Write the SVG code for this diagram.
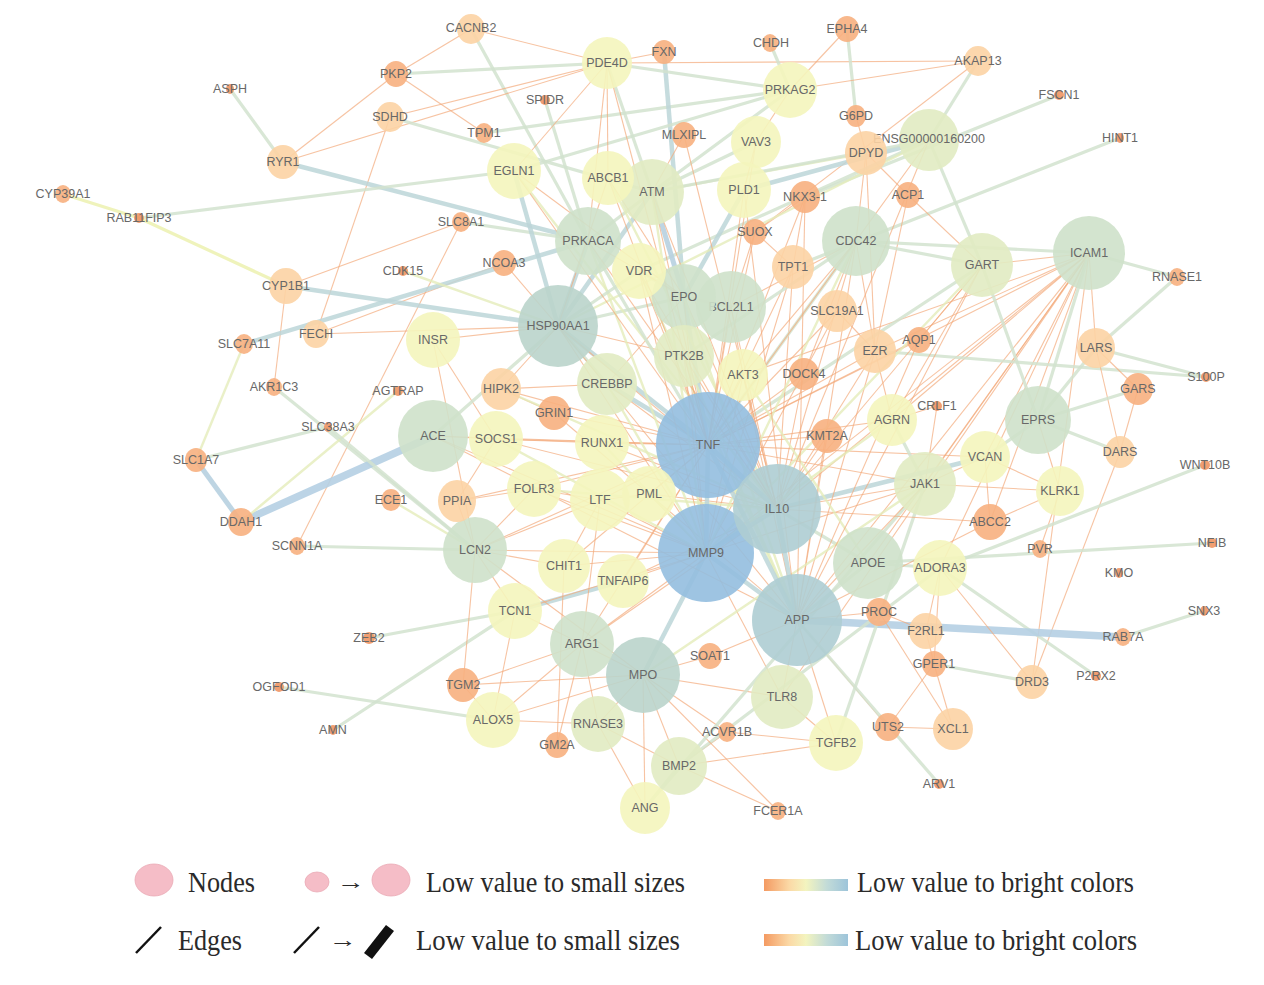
<svg xmlns="http://www.w3.org/2000/svg" width="1264" height="985" viewBox="0 0 1264 985">
<defs>
<linearGradient id="grad" x1="0" y1="0" x2="1" y2="0">
<stop offset="0" stop-color="#f49a62"/>
<stop offset="0.3" stop-color="#fbd9a6"/>
<stop offset="0.5" stop-color="#f3f4bf"/>
<stop offset="0.75" stop-color="#c2dbd8"/>
<stop offset="1" stop-color="#9dc4da"/>
</linearGradient>
</defs>
<style>
.eo{stroke:#f4ab7c;stroke-width:1.1;opacity:.7}
.ey{stroke:#e5edbb;stroke-width:2.4;opacity:.8}
.eyy{stroke:#eef2b4;stroke-width:3.2;opacity:.9}
.eg{stroke:#d3e3cf;stroke-width:3.2;opacity:.85}
.et{stroke:#bdd6d9;stroke-width:4.5;opacity:.85}
.ebs{stroke:#b7d1e1;stroke-width:5;opacity:.9}
.eb{stroke:#b5d0e4;stroke-width:7.5;opacity:.9}
.n ellipse{fill-opacity:.9}
.bl{fill:#93bedf}
.tb{fill:#aecdd3}
.tg{fill:#bad4cb}
.gr{fill:#cee1ca}
.yg{fill:#e1ebc2}
.ye{fill:#f4f5bd}
.lo{fill:#fcd3a4}
.or{fill:#f7b07f}
.dk{fill:#f09563}
.n text{font-family:"Liberation Sans",Arial,sans-serif;font-size:12.5px;fill:#686868;text-anchor:middle;dominant-baseline:central}
.lg{font-family:"Liberation Serif","Times New Roman",serif;font-size:29px;fill:#2a2a2a}
.ar{font-family:"Liberation Serif","DejaVu Serif",serif;font-size:22px;fill:#2a2a2a}
</style>
<rect width="1264" height="985" fill="#ffffff"/>
<g id="edges">
<line class="eo" x1="471" y1="29" x2="396" y2="74"/>
<line class="eo" x1="471" y1="29" x2="607" y2="63"/>
<line class="eg" x1="471" y1="29" x2="588" y2="241"/>
<line class="eo" x1="396" y1="74" x2="283" y2="162"/>
<line class="eo" x1="396" y1="74" x2="484" y2="133"/>
<line class="eg" x1="396" y1="74" x2="607" y2="63"/>
<line class="eo" x1="283" y1="162" x2="607" y2="63"/>
<line class="eo" x1="390" y1="117" x2="607" y2="63"/>
<line class="eo" x1="390" y1="117" x2="316" y2="334"/>
<line class="eg" x1="390" y1="117" x2="652" y2="192"/>
<line class="et" x1="283" y1="162" x2="588" y2="241"/>
<line class="eg" x1="230" y1="89" x2="283" y2="162"/>
<line class="eg" x1="484" y1="133" x2="790" y2="90"/>
<line class="eg" x1="545" y1="100" x2="588" y2="241"/>
<line class="eyy" x1="63" y1="194" x2="139" y2="218"/>
<line class="eyy" x1="139" y1="218" x2="286" y2="286"/>
<line class="eg" x1="139" y1="218" x2="514" y2="171"/>
<line class="eo" x1="461" y1="222" x2="286" y2="286"/>
<line class="eo" x1="461" y1="222" x2="297" y2="546"/>
<line class="eg" x1="461" y1="222" x2="588" y2="241"/>
<line class="eo" x1="504" y1="263" x2="558" y2="326"/>
<line class="eo" x1="316" y1="334" x2="504" y2="263"/>
<line class="et" x1="286" y1="286" x2="558" y2="326"/>
<line class="eo" x1="286" y1="286" x2="274" y2="387"/>
<line class="et" x1="244" y1="344" x2="588" y2="241"/>
<line class="ey" x1="244" y1="344" x2="196" y2="460"/>
<line class="eo" x1="316" y1="334" x2="558" y2="326"/>
<line class="eg" x1="274" y1="387" x2="475" y2="550"/>
<line class="ebs" x1="196" y1="460" x2="241" y2="522"/>
<line class="eg" x1="196" y1="460" x2="328" y2="427"/>
<line class="eb" x1="241" y1="522" x2="433" y2="436"/>
<line class="ey" x1="241" y1="522" x2="398" y2="391"/>
<line class="eg" x1="328" y1="427" x2="475" y2="550"/>
<line class="ey" x1="391" y1="500" x2="475" y2="550"/>
<line class="eg" x1="297" y1="546" x2="475" y2="550"/>
<line class="eg" x1="369" y1="638" x2="515" y2="611"/>
<line class="eg" x1="279" y1="687" x2="493" y2="720"/>
<line class="eg" x1="333" y1="730" x2="515" y2="611"/>
<line class="et" x1="515" y1="611" x2="623" y2="581"/>
<line class="eo" x1="433" y1="340" x2="558" y2="326"/>
<line class="eo" x1="433" y1="340" x2="475" y2="550"/>
<line class="eo" x1="433" y1="340" x2="496" y2="439"/>
<line class="eg" x1="433" y1="436" x2="558" y2="326"/>
<line class="ey" x1="403" y1="271" x2="558" y2="326"/>
<line class="eo" x1="607" y1="63" x2="978" y2="61"/>
<line class="et" x1="664" y1="52" x2="684" y2="297"/>
<line class="eo" x1="664" y1="52" x2="607" y2="63"/>
<line class="eg" x1="770" y1="43" x2="790" y2="90"/>
<line class="eo" x1="847" y1="29" x2="790" y2="90"/>
<line class="eg" x1="847" y1="29" x2="856" y2="116"/>
<line class="eo" x1="978" y1="61" x2="755" y2="232"/>
<line class="eo" x1="978" y1="61" x2="790" y2="90"/>
<line class="eg" x1="978" y1="61" x2="929" y2="140"/>
<line class="eo" x1="790" y1="90" x2="756" y2="142"/>
<line class="eg" x1="790" y1="90" x2="652" y2="192"/>
<line class="eg" x1="790" y1="90" x2="607" y2="63"/>
<line class="eg" x1="790" y1="90" x2="514" y2="171"/>
<line class="eo" x1="856" y1="116" x2="866" y2="153"/>
<line class="eo" x1="866" y1="153" x2="908" y2="195"/>
<line class="eo" x1="866" y1="153" x2="856" y2="241"/>
<line class="eo" x1="866" y1="153" x2="875" y2="351"/>
<line class="ey" x1="866" y1="153" x2="652" y2="192"/>
<line class="et" x1="929" y1="140" x2="744" y2="190"/>
<line class="eg" x1="929" y1="140" x2="982" y2="265"/>
<line class="eg" x1="929" y1="140" x2="652" y2="192"/>
<line class="eg" x1="929" y1="140" x2="639" y2="271"/>
<line class="eg" x1="1059" y1="95" x2="805" y2="197"/>
<line class="eg" x1="1120" y1="138" x2="793" y2="267"/>
<line class="eo" x1="805" y1="197" x2="755" y2="232"/>
<line class="eo" x1="755" y1="232" x2="793" y2="267"/>
<line class="eo" x1="805" y1="197" x2="793" y2="267"/>
<line class="eo" x1="908" y1="195" x2="982" y2="265"/>
<line class="eo" x1="908" y1="195" x2="875" y2="351"/>
<line class="eo" x1="684" y1="135" x2="652" y2="192"/>
<line class="eg" x1="756" y1="142" x2="652" y2="192"/>
<line class="eo" x1="756" y1="142" x2="744" y2="190"/>
<line class="eo" x1="607" y1="63" x2="608" y2="178"/>
<line class="eg" x1="607" y1="63" x2="652" y2="192"/>
<line class="eo" x1="607" y1="63" x2="514" y2="171"/>
<line class="ebs" x1="652" y1="192" x2="684" y2="297"/>
<line class="eg" x1="652" y1="192" x2="588" y2="241"/>
<line class="et" x1="652" y1="192" x2="558" y2="326"/>
<line class="et" x1="514" y1="171" x2="558" y2="326"/>
<line class="et" x1="588" y1="241" x2="558" y2="326"/>
<line class="et" x1="744" y1="190" x2="684" y2="297"/>
<line class="eo" x1="607" y1="63" x2="588" y2="241"/>
<line class="eg" x1="1089" y1="253" x2="1177" y2="277"/>
<line class="eo" x1="1089" y1="253" x2="1096" y2="348"/>
<line class="eo" x1="1089" y1="253" x2="982" y2="265"/>
<line class="eg" x1="1089" y1="253" x2="856" y2="241"/>
<line class="eo" x1="1089" y1="253" x2="875" y2="351"/>
<line class="eo" x1="1089" y1="253" x2="892" y2="420"/>
<line class="eo" x1="1089" y1="253" x2="925" y2="484"/>
<line class="eo" x1="1089" y1="253" x2="868" y2="563"/>
<line class="eo" x1="1089" y1="253" x2="706" y2="553"/>
<line class="eo" x1="1089" y1="253" x2="777" y2="509"/>
<line class="eo" x1="1089" y1="253" x2="708" y2="445"/>
<line class="eo" x1="1089" y1="253" x2="990" y2="522"/>
<line class="eo" x1="1089" y1="253" x2="940" y2="568"/>
<line class="eo" x1="1089" y1="253" x2="985" y2="457"/>
<line class="eg" x1="1089" y1="253" x2="1038" y2="420"/>
<line class="eo" x1="1089" y1="253" x2="743" y2="375"/>
<line class="eo" x1="1089" y1="253" x2="1032" y2="682"/>
<line class="eo" x1="1089" y1="253" x2="782" y2="697"/>
<line class="eo" x1="1089" y1="253" x2="797" y2="620"/>
<line class="eg" x1="1177" y1="277" x2="1096" y2="348"/>
<line class="eg" x1="1206" y1="377" x2="1096" y2="348"/>
<line class="eg" x1="1206" y1="377" x2="875" y2="351"/>
<line class="eo" x1="1096" y1="348" x2="1138" y2="389"/>
<line class="eo" x1="1096" y1="348" x2="1120" y2="452"/>
<line class="eo" x1="1138" y1="389" x2="1120" y2="452"/>
<line class="eg" x1="1138" y1="389" x2="1038" y2="420"/>
<line class="eg" x1="1096" y1="348" x2="1038" y2="420"/>
<line class="eg" x1="1120" y1="452" x2="1038" y2="420"/>
<line class="eo" x1="1120" y1="452" x2="1032" y2="682"/>
<line class="eo" x1="1038" y1="420" x2="1060" y2="491"/>
<line class="eg" x1="1038" y1="420" x2="985" y2="457"/>
<line class="eg" x1="1038" y1="420" x2="982" y2="265"/>
<line class="eo" x1="1060" y1="491" x2="1040" y2="549"/>
<line class="eo" x1="1060" y1="491" x2="985" y2="457"/>
<line class="eo" x1="1060" y1="491" x2="925" y2="484"/>
<line class="eo" x1="1060" y1="491" x2="990" y2="522"/>
<line class="eg" x1="1205" y1="465" x2="940" y2="568"/>
<line class="eg" x1="1212" y1="543" x2="868" y2="563"/>
<line class="eg" x1="1204" y1="611" x2="1123" y2="637"/>
<line class="eg" x1="1096" y1="676" x2="940" y2="568"/>
<line class="eb" x1="797" y1="620" x2="1123" y2="637"/>
<line class="eg" x1="982" y1="265" x2="856" y2="241"/>
<line class="eo" x1="982" y1="265" x2="892" y2="420"/>
<line class="eg" x1="982" y1="265" x2="708" y2="445"/>
<line class="eo" x1="937" y1="406" x2="892" y2="420"/>
<line class="eo" x1="937" y1="406" x2="925" y2="484"/>
<line class="eo" x1="985" y1="457" x2="925" y2="484"/>
<line class="eo" x1="985" y1="457" x2="990" y2="522"/>
<line class="eo" x1="985" y1="457" x2="708" y2="445"/>
<line class="eo" x1="892" y1="420" x2="708" y2="445"/>
<line class="eg" x1="892" y1="420" x2="925" y2="484"/>
<line class="eg" x1="940" y1="568" x2="868" y2="563"/>
<line class="eo" x1="940" y1="568" x2="926" y2="631"/>
<line class="eo" x1="940" y1="568" x2="1032" y2="682"/>
<line class="eo" x1="940" y1="568" x2="934" y2="664"/>
<line class="eg" x1="868" y1="563" x2="797" y2="620"/>
<line class="eg" x1="868" y1="563" x2="777" y2="509"/>
<line class="et" x1="777" y1="509" x2="985" y2="457"/>
<line class="eo" x1="879" y1="612" x2="797" y2="620"/>
<line class="eo" x1="879" y1="612" x2="926" y2="631"/>
<line class="eo" x1="879" y1="612" x2="953" y2="729"/>
<line class="eo" x1="926" y1="631" x2="934" y2="664"/>
<line class="eo" x1="934" y1="664" x2="953" y2="729"/>
<line class="eg" x1="934" y1="664" x2="1032" y2="682"/>
<line class="eo" x1="934" y1="664" x2="888" y2="727"/>
<line class="eo" x1="888" y1="727" x2="953" y2="729"/>
<line class="eo" x1="888" y1="727" x2="797" y2="620"/>
<line class="eg" x1="939" y1="784" x2="797" y2="620"/>
<line class="eo" x1="836" y1="743" x2="782" y2="697"/>
<line class="eo" x1="836" y1="743" x2="797" y2="620"/>
<line class="eo" x1="836" y1="743" x2="679" y2="766"/>
<line class="eg" x1="836" y1="743" x2="925" y2="484"/>
<line class="eo" x1="782" y1="697" x2="797" y2="620"/>
<line class="eo" x1="782" y1="697" x2="706" y2="553"/>
<line class="eo" x1="782" y1="697" x2="643" y2="675"/>
<line class="eo" x1="727" y1="732" x2="836" y2="743"/>
<line class="eo" x1="727" y1="732" x2="679" y2="766"/>
<line class="eo" x1="727" y1="732" x2="643" y2="675"/>
<line class="eo" x1="679" y1="766" x2="778" y2="811"/>
<line class="eg" x1="679" y1="766" x2="645" y2="808"/>
<line class="eo" x1="679" y1="766" x2="643" y2="675"/>
<line class="eg" x1="679" y1="766" x2="940" y2="568"/>
<line class="eo" x1="679" y1="766" x2="598" y2="724"/>
<line class="eo" x1="778" y1="811" x2="643" y2="675"/>
<line class="eo" x1="645" y1="808" x2="598" y2="724"/>
<line class="eg" x1="645" y1="808" x2="925" y2="484"/>
<line class="eo" x1="645" y1="808" x2="643" y2="675"/>
<line class="eo" x1="710" y1="656" x2="643" y2="675"/>
<line class="eo" x1="710" y1="656" x2="797" y2="620"/>
<line class="eo" x1="643" y1="675" x2="582" y2="644"/>
<line class="et" x1="643" y1="675" x2="706" y2="553"/>
<line class="eo" x1="643" y1="675" x2="475" y2="550"/>
<line class="eo" x1="598" y1="724" x2="493" y2="720"/>
<line class="eo" x1="598" y1="724" x2="643" y2="675"/>
<line class="eo" x1="598" y1="724" x2="582" y2="644"/>
<line class="eo" x1="557" y1="745" x2="582" y2="644"/>
<line class="eo" x1="557" y1="745" x2="564" y2="566"/>
<line class="eo" x1="493" y1="720" x2="515" y2="611"/>
<line class="eo" x1="493" y1="720" x2="582" y2="644"/>
<line class="eo" x1="493" y1="720" x2="643" y2="675"/>
<line class="eo" x1="493" y1="720" x2="463" y2="685"/>
<line class="eo" x1="463" y1="685" x2="582" y2="644"/>
<line class="eo" x1="463" y1="685" x2="643" y2="675"/>
<line class="eo" x1="463" y1="685" x2="475" y2="550"/>
<line class="eo" x1="515" y1="611" x2="475" y2="550"/>
<line class="eo" x1="515" y1="611" x2="582" y2="644"/>
<line class="eo" x1="515" y1="611" x2="706" y2="553"/>
<line class="eo" x1="582" y1="644" x2="706" y2="553"/>
<line class="eo" x1="582" y1="644" x2="708" y2="445"/>
<line class="eo" x1="582" y1="644" x2="777" y2="509"/>
<line class="eo" x1="582" y1="644" x2="600" y2="500"/>
<line class="eo" x1="564" y1="566" x2="475" y2="550"/>
<line class="eo" x1="564" y1="566" x2="706" y2="553"/>
<line class="eo" x1="564" y1="566" x2="600" y2="500"/>
<line class="eo" x1="564" y1="566" x2="708" y2="445"/>
<line class="eo" x1="623" y1="581" x2="706" y2="553"/>
<line class="eo" x1="623" y1="581" x2="708" y2="445"/>
<line class="eo" x1="623" y1="581" x2="777" y2="509"/>
<line class="eo" x1="475" y1="550" x2="706" y2="553"/>
<line class="eo" x1="475" y1="550" x2="708" y2="445"/>
<line class="eo" x1="475" y1="550" x2="600" y2="500"/>
<line class="eo" x1="475" y1="550" x2="457" y2="501"/>
<line class="eo" x1="475" y1="550" x2="534" y2="489"/>
<line class="eo" x1="457" y1="501" x2="708" y2="445"/>
<line class="eo" x1="457" y1="501" x2="534" y2="489"/>
<line class="eo" x1="457" y1="501" x2="496" y2="439"/>
<line class="eo" x1="534" y1="489" x2="600" y2="500"/>
<line class="eo" x1="534" y1="489" x2="708" y2="445"/>
<line class="eo" x1="534" y1="489" x2="706" y2="553"/>
<line class="eo" x1="600" y1="500" x2="706" y2="553"/>
<line class="eo" x1="600" y1="500" x2="708" y2="445"/>
<line class="eo" x1="600" y1="500" x2="649" y2="494"/>
<line class="eo" x1="649" y1="494" x2="708" y2="445"/>
<line class="eo" x1="649" y1="494" x2="706" y2="553"/>
<line class="eo" x1="649" y1="494" x2="777" y2="509"/>
<line class="eo" x1="496" y1="439" x2="708" y2="445"/>
<line class="eo" x1="496" y1="439" x2="777" y2="509"/>
<line class="eo" x1="496" y1="439" x2="433" y2="436"/>
<line class="eo" x1="496" y1="439" x2="602" y2="443"/>
<line class="eo" x1="433" y1="436" x2="708" y2="445"/>
<line class="eo" x1="433" y1="436" x2="706" y2="553"/>
<line class="eo" x1="433" y1="436" x2="797" y2="620"/>
<line class="eo" x1="602" y1="443" x2="708" y2="445"/>
<line class="eo" x1="602" y1="443" x2="777" y2="509"/>
<line class="eo" x1="554" y1="413" x2="501" y2="389"/>
<line class="eo" x1="554" y1="413" x2="708" y2="445"/>
<line class="eo" x1="554" y1="413" x2="797" y2="620"/>
<line class="eo" x1="501" y1="389" x2="558" y2="326"/>
<line class="eo" x1="501" y1="389" x2="708" y2="445"/>
<line class="eo" x1="501" y1="389" x2="607" y2="384"/>
<line class="et" x1="607" y1="384" x2="708" y2="445"/>
<line class="eg" x1="607" y1="384" x2="558" y2="326"/>
<line class="eo" x1="607" y1="384" x2="684" y2="297"/>
<line class="eo" x1="607" y1="384" x2="777" y2="509"/>
<line class="et" x1="558" y1="326" x2="708" y2="445"/>
<line class="eo" x1="558" y1="326" x2="706" y2="553"/>
<line class="eg" x1="558" y1="326" x2="684" y2="297"/>
<line class="eo" x1="558" y1="326" x2="684" y2="356"/>
<line class="eo" x1="558" y1="326" x2="777" y2="509"/>
<line class="eo" x1="558" y1="326" x2="797" y2="620"/>
<line class="et" x1="684" y1="297" x2="708" y2="445"/>
<line class="eo" x1="684" y1="297" x2="777" y2="509"/>
<line class="eo" x1="684" y1="297" x2="706" y2="553"/>
<line class="eg" x1="684" y1="297" x2="731" y2="307"/>
<line class="eg" x1="684" y1="297" x2="639" y2="271"/>
<line class="eo" x1="731" y1="307" x2="708" y2="445"/>
<line class="eo" x1="731" y1="307" x2="777" y2="509"/>
<line class="eo" x1="731" y1="307" x2="743" y2="375"/>
<line class="eo" x1="731" y1="307" x2="856" y2="241"/>
<line class="eo" x1="684" y1="356" x2="708" y2="445"/>
<line class="eo" x1="684" y1="356" x2="777" y2="509"/>
<line class="eo" x1="684" y1="356" x2="706" y2="553"/>
<line class="eo" x1="743" y1="375" x2="708" y2="445"/>
<line class="eo" x1="743" y1="375" x2="777" y2="509"/>
<line class="eo" x1="743" y1="375" x2="706" y2="553"/>
<line class="eo" x1="743" y1="375" x2="797" y2="620"/>
<line class="eo" x1="804" y1="374" x2="708" y2="445"/>
<line class="eo" x1="804" y1="374" x2="777" y2="509"/>
<line class="eo" x1="804" y1="374" x2="856" y2="241"/>
<line class="eo" x1="827" y1="436" x2="708" y2="445"/>
<line class="eo" x1="827" y1="436" x2="777" y2="509"/>
<line class="eo" x1="827" y1="436" x2="797" y2="620"/>
<line class="eo" x1="793" y1="267" x2="708" y2="445"/>
<line class="eo" x1="793" y1="267" x2="777" y2="509"/>
<line class="eo" x1="793" y1="267" x2="706" y2="553"/>
<line class="eo" x1="837" y1="311" x2="708" y2="445"/>
<line class="eo" x1="837" y1="311" x2="706" y2="553"/>
<line class="eo" x1="837" y1="311" x2="875" y2="351"/>
<line class="eo" x1="875" y1="351" x2="708" y2="445"/>
<line class="eo" x1="875" y1="351" x2="777" y2="509"/>
<line class="eo" x1="875" y1="351" x2="797" y2="620"/>
<line class="eo" x1="875" y1="351" x2="856" y2="241"/>
<line class="eo" x1="875" y1="351" x2="892" y2="420"/>
<line class="eo" x1="919" y1="340" x2="708" y2="445"/>
<line class="eo" x1="919" y1="340" x2="797" y2="620"/>
<line class="eo" x1="919" y1="340" x2="982" y2="265"/>
<line class="eg" x1="856" y1="241" x2="708" y2="445"/>
<line class="eo" x1="856" y1="241" x2="777" y2="509"/>
<line class="eo" x1="856" y1="241" x2="797" y2="620"/>
<line class="eo" x1="856" y1="241" x2="743" y2="375"/>
<line class="eg" x1="856" y1="241" x2="684" y2="356"/>
<line class="eo" x1="925" y1="484" x2="708" y2="445"/>
<line class="eo" x1="925" y1="484" x2="777" y2="509"/>
<line class="eo" x1="925" y1="484" x2="797" y2="620"/>
<line class="eo" x1="925" y1="484" x2="706" y2="553"/>
<line class="eo" x1="990" y1="522" x2="797" y2="620"/>
<line class="eo" x1="990" y1="522" x2="777" y2="509"/>
<line class="ey" x1="652" y1="192" x2="706" y2="553"/>
<line class="ey" x1="639" y1="271" x2="797" y2="620"/>
<line class="ey" x1="684" y1="356" x2="797" y2="620"/>
<line class="ey" x1="684" y1="297" x2="797" y2="620"/>
<line class="ey" x1="588" y1="241" x2="706" y2="553"/>
<line class="ey" x1="608" y1="178" x2="777" y2="509"/>
<line class="ey" x1="856" y1="241" x2="706" y2="553"/>
<line class="ey" x1="982" y1="265" x2="706" y2="553"/>
<line class="ey" x1="514" y1="171" x2="777" y2="509"/>
<line class="ey" x1="929" y1="140" x2="558" y2="326"/>
<line class="ey" x1="602" y1="443" x2="706" y2="553"/>
<line class="ey" x1="607" y1="384" x2="706" y2="553"/>
<line class="ey" x1="501" y1="389" x2="777" y2="509"/>
<line class="ey" x1="496" y1="439" x2="706" y2="553"/>
<line class="ey" x1="743" y1="375" x2="868" y2="563"/>
<line class="ey" x1="892" y1="420" x2="706" y2="553"/>
<line class="ey" x1="925" y1="484" x2="643" y2="675"/>
<line class="ey" x1="534" y1="489" x2="777" y2="509"/>
<line class="et" x1="777" y1="509" x2="708" y2="445"/>
<line class="et" x1="777" y1="509" x2="706" y2="553"/>
<line class="et" x1="777" y1="509" x2="797" y2="620"/>
<line class="et" x1="706" y1="553" x2="708" y2="445"/>
<line class="et" x1="706" y1="553" x2="797" y2="620"/>
<line class="et" x1="708" y1="445" x2="797" y2="620"/>
<line class="eo" x1="639" y1="271" x2="708" y2="445"/>
<line class="eo" x1="639" y1="271" x2="706" y2="553"/>
<line class="eo" x1="639" y1="271" x2="777" y2="509"/>
<line class="eg" x1="639" y1="271" x2="558" y2="326"/>
<line class="eo" x1="608" y1="178" x2="708" y2="445"/>
<line class="eo" x1="608" y1="178" x2="684" y2="297"/>
<line class="eo" x1="608" y1="178" x2="558" y2="326"/>
<line class="eo" x1="514" y1="171" x2="684" y2="297"/>
<line class="eo" x1="514" y1="171" x2="708" y2="445"/>
<line class="eg" x1="588" y1="241" x2="708" y2="445"/>
<line class="eo" x1="588" y1="241" x2="777" y2="509"/>
<line class="eo" x1="588" y1="241" x2="684" y2="297"/>
<line class="eo" x1="652" y1="192" x2="708" y2="445"/>
<line class="eo" x1="652" y1="192" x2="777" y2="509"/>
<line class="eo" x1="744" y1="190" x2="708" y2="445"/>
<line class="eo" x1="744" y1="190" x2="797" y2="620"/>
<line class="eo" x1="756" y1="142" x2="708" y2="445"/>
<line class="eo" x1="755" y1="232" x2="731" y2="307"/>
<line class="eo" x1="755" y1="232" x2="708" y2="445"/>
<line class="eo" x1="805" y1="197" x2="708" y2="445"/>
<line class="eo" x1="805" y1="197" x2="797" y2="620"/>
<line class="eo" x1="684" y1="135" x2="777" y2="509"/>
<line class="eo" x1="982" y1="265" x2="777" y2="509"/>
<line class="eo" x1="982" y1="265" x2="797" y2="620"/>
<line class="eo" x1="929" y1="140" x2="708" y2="445"/>
<line class="eo" x1="929" y1="140" x2="777" y2="509"/>
<line class="eo" x1="607" y1="63" x2="708" y2="445"/>
</g>
<g id="nodes">
<g id="n-TNF" class="n"><ellipse class="bl" cx="708" cy="445" rx="52" ry="53"/><text x="708" y="445">TNF</text></g>
<g id="n-MMP9" class="n"><ellipse class="bl" cx="706" cy="553" rx="48" ry="49"/><text x="706" y="553">MMP9</text></g>
<g id="n-IL10" class="n"><ellipse class="tb" cx="777" cy="509" rx="44" ry="45"/><text x="777" y="509">IL10</text></g>
<g id="n-APP" class="n"><ellipse class="tb" cx="797" cy="620" rx="45" ry="46"/><text x="797" y="620">APP</text></g>
<g id="n-HSP90AA1" class="n"><ellipse class="tg" cx="558" cy="326" rx="40" ry="41"/><text x="558" y="326">HSP90AA1</text></g>
<g id="n-MPO" class="n"><ellipse class="tg" cx="643" cy="675" rx="37" ry="38"/><text x="643" y="675">MPO</text></g>
<g id="n-ACE" class="n"><ellipse class="gr" cx="433" cy="436" rx="35" ry="36"/><text x="433" y="436">ACE</text></g>
<g id="n-ICAM1" class="n"><ellipse class="gr" cx="1089" cy="253" rx="36" ry="37"/><text x="1089" y="253">ICAM1</text></g>
<g id="n-CDC42" class="n"><ellipse class="gr" cx="856" cy="241" rx="34" ry="35"/><text x="856" y="241">CDC42</text></g>
<g id="n-PRKACA" class="n"><ellipse class="gr" cx="588" cy="241" rx="33" ry="34"/><text x="588" y="241">PRKACA</text></g>
<g id="n-BCL2L1" class="n"><ellipse class="gr" cx="731" cy="307" rx="35" ry="36"/><text x="731" y="307">BCL2L1</text></g>
<g id="n-EPO" class="n"><ellipse class="gr" cx="684" cy="297" rx="32" ry="33"/><text x="684" y="297">EPO</text></g>
<g id="n-LCN2" class="n"><ellipse class="gr" cx="475" cy="550" rx="32" ry="33"/><text x="475" y="550">LCN2</text></g>
<g id="n-APOE" class="n"><ellipse class="gr" cx="868" cy="563" rx="35" ry="36"/><text x="868" y="563">APOE</text></g>
<g id="n-EPRS" class="n"><ellipse class="gr" cx="1038" cy="420" rx="33" ry="34"/><text x="1038" y="420">EPRS</text></g>
<g id="n-ARG1" class="n"><ellipse class="gr" cx="582" cy="644" rx="32" ry="33"/><text x="582" y="644">ARG1</text></g>
<g id="n-ATM" class="n"><ellipse class="yg" cx="652" cy="192" rx="32" ry="33"/><text x="652" y="192">ATM</text></g>
<g id="n-GART" class="n"><ellipse class="yg" cx="982" cy="265" rx="31" ry="32"/><text x="982" y="265">GART</text></g>
<g id="n-JAK1" class="n"><ellipse class="yg" cx="925" cy="484" rx="31" ry="32"/><text x="925" y="484">JAK1</text></g>
<g id="n-TLR8" class="n"><ellipse class="yg" cx="782" cy="697" rx="31" ry="32"/><text x="782" y="697">TLR8</text></g>
<g id="n-CREBBP" class="n"><ellipse class="yg" cx="607" cy="384" rx="30" ry="31"/><text x="607" y="384">CREBBP</text></g>
<g id="n-PTK2B" class="n"><ellipse class="yg" cx="684" cy="356" rx="30" ry="31"/><text x="684" y="356">PTK2B</text></g>
<g id="n-ENSG00000160200" class="n"><ellipse class="yg" cx="929" cy="140" rx="30" ry="31"/><text x="929" y="139">ENSG00000160200</text></g>
<g id="n-BMP2" class="n"><ellipse class="yg" cx="679" cy="766" rx="28" ry="29"/><text x="679" y="766">BMP2</text></g>
<g id="n-RNASE3" class="n"><ellipse class="yg" cx="598" cy="724" rx="27" ry="28"/><text x="598" y="724">RNASE3</text></g>
<g id="n-PDE4D" class="n"><ellipse class="ye" cx="607" cy="63" rx="25" ry="26"/><text x="607" y="63">PDE4D</text></g>
<g id="n-PRKAG2" class="n"><ellipse class="ye" cx="790" cy="90" rx="27" ry="28"/><text x="790" y="90">PRKAG2</text></g>
<g id="n-VAV3" class="n"><ellipse class="ye" cx="756" cy="142" rx="25" ry="26"/><text x="756" y="142">VAV3</text></g>
<g id="n-EGLN1" class="n"><ellipse class="ye" cx="514" cy="171" rx="27" ry="28"/><text x="514" y="171">EGLN1</text></g>
<g id="n-ABCB1" class="n"><ellipse class="ye" cx="608" cy="178" rx="26" ry="27"/><text x="608" y="178">ABCB1</text></g>
<g id="n-PLD1" class="n"><ellipse class="ye" cx="744" cy="190" rx="27" ry="28"/><text x="744" y="190">PLD1</text></g>
<g id="n-VDR" class="n"><ellipse class="ye" cx="639" cy="271" rx="27" ry="28"/><text x="639" y="271">VDR</text></g>
<g id="n-INSR" class="n"><ellipse class="ye" cx="433" cy="340" rx="27" ry="28"/><text x="433" y="340">INSR</text></g>
<g id="n-AKT3" class="n"><ellipse class="ye" cx="743" cy="375" rx="25" ry="26"/><text x="743" y="375">AKT3</text></g>
<g id="n-SOCS1" class="n"><ellipse class="ye" cx="496" cy="439" rx="27" ry="28"/><text x="496" y="439">SOCS1</text></g>
<g id="n-RUNX1" class="n"><ellipse class="ye" cx="602" cy="443" rx="27" ry="28"/><text x="602" y="443">RUNX1</text></g>
<g id="n-FOLR3" class="n"><ellipse class="ye" cx="534" cy="489" rx="27" ry="28"/><text x="534" y="489">FOLR3</text></g>
<g id="n-LTF" class="n"><ellipse class="ye" cx="600" cy="500" rx="30" ry="31"/><text x="600" y="500">LTF</text></g>
<g id="n-PML" class="n"><ellipse class="ye" cx="649" cy="494" rx="27" ry="28"/><text x="649" y="494">PML</text></g>
<g id="n-CHIT1" class="n"><ellipse class="ye" cx="564" cy="566" rx="26" ry="27"/><text x="564" y="566">CHIT1</text></g>
<g id="n-TNFAIP6" class="n"><ellipse class="ye" cx="623" cy="581" rx="26" ry="27"/><text x="623" y="581">TNFAIP6</text></g>
<g id="n-TCN1" class="n"><ellipse class="ye" cx="515" cy="611" rx="27" ry="28"/><text x="515" y="611">TCN1</text></g>
<g id="n-ALOX5" class="n"><ellipse class="ye" cx="493" cy="720" rx="27" ry="28"/><text x="493" y="720">ALOX5</text></g>
<g id="n-ANG" class="n"><ellipse class="ye" cx="645" cy="808" rx="25" ry="26"/><text x="645" y="808">ANG</text></g>
<g id="n-AGRN" class="n"><ellipse class="ye" cx="892" cy="420" rx="25" ry="26"/><text x="892" y="420">AGRN</text></g>
<g id="n-VCAN" class="n"><ellipse class="ye" cx="985" cy="457" rx="25" ry="26"/><text x="985" y="457">VCAN</text></g>
<g id="n-KLRK1" class="n"><ellipse class="ye" cx="1060" cy="491" rx="24" ry="25"/><text x="1060" y="491">KLRK1</text></g>
<g id="n-ADORA3" class="n"><ellipse class="ye" cx="940" cy="568" rx="27" ry="28"/><text x="940" y="568">ADORA3</text></g>
<g id="n-TGFB2" class="n"><ellipse class="ye" cx="836" cy="743" rx="27" ry="28"/><text x="836" y="743">TGFB2</text></g>
<g id="n-DPYD" class="n"><ellipse class="lo" cx="866" cy="153" rx="21" ry="22"/><text x="866" y="153">DPYD</text></g>
<g id="n-TPT1" class="n"><ellipse class="lo" cx="793" cy="267" rx="21" ry="22"/><text x="793" y="267">TPT1</text></g>
<g id="n-SLC19A1" class="n"><ellipse class="lo" cx="837" cy="311" rx="20" ry="21"/><text x="837" y="311">SLC19A1</text></g>
<g id="n-EZR" class="n"><ellipse class="lo" cx="875" cy="351" rx="21" ry="22"/><text x="875" y="351">EZR</text></g>
<g id="n-LARS" class="n"><ellipse class="lo" cx="1096" cy="348" rx="19" ry="20"/><text x="1096" y="348">LARS</text></g>
<g id="n-HIPK2" class="n"><ellipse class="lo" cx="501" cy="389" rx="20" ry="21"/><text x="501" y="389">HIPK2</text></g>
<g id="n-PPIA" class="n"><ellipse class="lo" cx="457" cy="501" rx="19" ry="21"/><text x="457" y="501">PPIA</text></g>
<g id="n-XCL1" class="n"><ellipse class="lo" cx="953" cy="729" rx="20" ry="21"/><text x="953" y="729">XCL1</text></g>
<g id="n-DRD3" class="n"><ellipse class="lo" cx="1032" cy="682" rx="16" ry="17"/><text x="1032" y="682">DRD3</text></g>
<g id="n-F2RL1" class="n"><ellipse class="lo" cx="926" cy="631" rx="17" ry="18"/><text x="926" y="631">F2RL1</text></g>
<g id="n-CACNB2" class="n"><ellipse class="lo" cx="471" cy="29" rx="14" ry="15"/><text x="471" y="28">CACNB2</text></g>
<g id="n-RYR1" class="n"><ellipse class="lo" cx="283" cy="162" rx="16" ry="17"/><text x="283" y="162">RYR1</text></g>
<g id="n-CYP1B1" class="n"><ellipse class="lo" cx="286" cy="286" rx="17" ry="18"/><text x="286" y="286">CYP1B1</text></g>
<g id="n-SDHD" class="n"><ellipse class="lo" cx="390" cy="117" rx="14" ry="15"/><text x="390" y="117">SDHD</text></g>
<g id="n-AKAP13" class="n"><ellipse class="lo" cx="978" cy="61" rx="14" ry="15"/><text x="978" y="61">AKAP13</text></g>
<g id="n-DARS" class="n"><ellipse class="lo" cx="1120" cy="452" rx="15" ry="16"/><text x="1120" y="452">DARS</text></g>
<g id="n-FECH" class="n"><ellipse class="lo" cx="316" cy="334" rx="13" ry="14"/><text x="316" y="334">FECH</text></g>
<g id="n-PKP2" class="n"><ellipse class="or" cx="396" cy="74" rx="12" ry="13"/><text x="396" y="74">PKP2</text></g>
<g id="n-GARS" class="n"><ellipse class="or" cx="1138" cy="389" rx="15" ry="16"/><text x="1138" y="389">GARS</text></g>
<g id="n-ABCC2" class="n"><ellipse class="or" cx="990" cy="522" rx="17" ry="18"/><text x="990" y="522">ABCC2</text></g>
<g id="n-KMT2A" class="n"><ellipse class="or" cx="827" cy="436" rx="16" ry="17"/><text x="827" y="436">KMT2A</text></g>
<g id="n-DOCK4" class="n"><ellipse class="or" cx="804" cy="374" rx="15" ry="16"/><text x="804" y="374">DOCK4</text></g>
<g id="n-NKX3-1" class="n"><ellipse class="or" cx="805" cy="197" rx="15" ry="16"/><text x="805" y="197">NKX3-1</text></g>
<g id="n-GRIN1" class="n"><ellipse class="or" cx="554" cy="413" rx="16" ry="17"/><text x="554" y="413">GRIN1</text></g>
<g id="n-TGM2" class="n"><ellipse class="or" cx="463" cy="685" rx="16" ry="17"/><text x="463" y="685">TGM2</text></g>
<g id="n-FXN" class="n"><ellipse class="or" cx="664" cy="52" rx="11" ry="12"/><text x="664" y="52">FXN</text></g>
<g id="n-EPHA4" class="n"><ellipse class="or" cx="847" cy="29" rx="12" ry="13"/><text x="847" y="29">EPHA4</text></g>
<g id="n-MLXIPL" class="n"><ellipse class="or" cx="684" cy="135" rx="12" ry="13"/><text x="684" y="135">MLXIPL</text></g>
<g id="n-SUOX" class="n"><ellipse class="or" cx="755" cy="232" rx="12" ry="13"/><text x="755" y="232">SUOX</text></g>
<g id="n-ACP1" class="n"><ellipse class="or" cx="908" cy="195" rx="12" ry="13"/><text x="908" y="195">ACP1</text></g>
<g id="n-NCOA3" class="n"><ellipse class="or" cx="504" cy="263" rx="12" ry="13"/><text x="504" y="263">NCOA3</text></g>
<g id="n-AQP1" class="n"><ellipse class="or" cx="919" cy="340" rx="12" ry="13"/><text x="919" y="340">AQP1</text></g>
<g id="n-PROC" class="n"><ellipse class="or" cx="879" cy="612" rx="13" ry="14"/><text x="879" y="612">PROC</text></g>
<g id="n-SOAT1" class="n"><ellipse class="or" cx="710" cy="656" rx="12" ry="13"/><text x="710" y="656">SOAT1</text></g>
<g id="n-GPER1" class="n"><ellipse class="or" cx="934" cy="664" rx="12" ry="13"/><text x="934" y="664">GPER1</text></g>
<g id="n-UTS2" class="n"><ellipse class="or" cx="888" cy="727" rx="13" ry="14"/><text x="888" y="727">UTS2</text></g>
<g id="n-GM2A" class="n"><ellipse class="or" cx="557" cy="745" rx="12" ry="13"/><text x="557" y="745">GM2A</text></g>
<g id="n-DDAH1" class="n"><ellipse class="or" cx="241" cy="522" rx="13" ry="14"/><text x="241" y="522">DDAH1</text></g>
<g id="n-SLC1A7" class="n"><ellipse class="or" cx="196" cy="460" rx="11" ry="12"/><text x="196" y="460">SLC1A7</text></g>
<g id="n-TPM1" class="n"><ellipse class="or" cx="484" cy="133" rx="9" ry="10"/><text x="484" y="133">TPM1</text></g>
<g id="n-G6PD" class="n"><ellipse class="or" cx="856" cy="116" rx="10" ry="11"/><text x="856" y="116">G6PD</text></g>
<g id="n-SLC8A1" class="n"><ellipse class="or" cx="461" cy="222" rx="9" ry="10"/><text x="461" y="222">SLC8A1</text></g>
<g id="n-CHDH" class="n"><ellipse class="or" cx="770" cy="43" rx="8" ry="9"/><text x="771" y="43">CHDH</text></g>
<g id="n-SLC7A11" class="n"><ellipse class="or" cx="244" cy="344" rx="9" ry="10"/><text x="244" y="344">SLC7A11</text></g>
<g id="n-AKR1C3" class="n"><ellipse class="or" cx="274" cy="387" rx="8" ry="9"/><text x="274" y="387">AKR1C3</text></g>
<g id="n-ECE1" class="n"><ellipse class="or" cx="391" cy="500" rx="10" ry="11"/><text x="391" y="500">ECE1</text></g>
<g id="n-SCNN1A" class="n"><ellipse class="or" cx="297" cy="546" rx="8" ry="9"/><text x="297" y="546">SCNN1A</text></g>
<g id="n-CYP39A1" class="n"><ellipse class="or" cx="63" cy="194" rx="8" ry="9"/><text x="63" y="194">CYP39A1</text></g>
<g id="n-RNASE1" class="n"><ellipse class="or" cx="1177" cy="277" rx="8" ry="9"/><text x="1177" y="277">RNASE1</text></g>
<g id="n-PVR" class="n"><ellipse class="or" cx="1040" cy="549" rx="8" ry="9"/><text x="1040" y="549">PVR</text></g>
<g id="n-RAB7A" class="n"><ellipse class="or" cx="1123" cy="637" rx="8" ry="9"/><text x="1123" y="637">RAB7A</text></g>
<g id="n-ACVR1B" class="n"><ellipse class="or" cx="727" cy="732" rx="9" ry="10"/><text x="727" y="732">ACVR1B</text></g>
<g id="n-FCER1A" class="n"><ellipse class="or" cx="778" cy="811" rx="8" ry="9"/><text x="778" y="811">FCER1A</text></g>
<g id="n-ASPH" class="n"><ellipse class="dk" cx="230" cy="89" rx="4" ry="5"/><text x="230" y="89">ASPH</text></g>
<g id="n-SPIDR" class="n"><ellipse class="dk" cx="545" cy="100" rx="5" ry="5"/><text x="545" y="100">SPIDR</text></g>
<g id="n-RAB11FIP3" class="n"><ellipse class="dk" cx="139" cy="218" rx="5" ry="5"/><text x="139" y="218">RAB11FIP3</text></g>
<g id="n-CDK15" class="n"><ellipse class="dk" cx="403" cy="271" rx="5" ry="5"/><text x="403" y="271">CDK15</text></g>
<g id="n-AGTRAP" class="n"><ellipse class="dk" cx="398" cy="391" rx="5" ry="5"/><text x="398" y="391">AGTRAP</text></g>
<g id="n-SLC38A3" class="n"><ellipse class="dk" cx="328" cy="427" rx="4" ry="5"/><text x="328" y="427">SLC38A3</text></g>
<g id="n-ZEB2" class="n"><ellipse class="dk" cx="369" cy="638" rx="6" ry="6"/><text x="369" y="638">ZEB2</text></g>
<g id="n-OGFOD1" class="n"><ellipse class="dk" cx="279" cy="687" rx="5" ry="5"/><text x="279" y="687">OGFOD1</text></g>
<g id="n-AMN" class="n"><ellipse class="dk" cx="333" cy="730" rx="4" ry="5"/><text x="333" y="730">AMN</text></g>
<g id="n-FSCN1" class="n"><ellipse class="dk" cx="1059" cy="95" rx="5" ry="5"/><text x="1059" y="95">FSCN1</text></g>
<g id="n-HINT1" class="n"><ellipse class="dk" cx="1120" cy="138" rx="4" ry="5"/><text x="1120" y="138">HINT1</text></g>
<g id="n-CRLF1" class="n"><ellipse class="dk" cx="937" cy="406" rx="5" ry="5"/><text x="937" y="406">CRLF1</text></g>
<g id="n-S100P" class="n"><ellipse class="dk" cx="1206" cy="377" rx="5" ry="5"/><text x="1206" y="377">S100P</text></g>
<g id="n-WNT10B" class="n"><ellipse class="dk" cx="1205" cy="465" rx="5" ry="5"/><text x="1205" y="465">WNT10B</text></g>
<g id="n-NFIB" class="n"><ellipse class="dk" cx="1212" cy="543" rx="5" ry="5"/><text x="1212" y="543">NFIB</text></g>
<g id="n-KMO" class="n"><ellipse class="dk" cx="1119" cy="573" rx="4" ry="5"/><text x="1119" y="573">KMO</text></g>
<g id="n-SNX3" class="n"><ellipse class="dk" cx="1204" cy="611" rx="4" ry="5"/><text x="1204" y="611">SNX3</text></g>
<g id="n-P2RX2" class="n"><ellipse class="dk" cx="1096" cy="676" rx="5" ry="5"/><text x="1096" y="676">P2RX2</text></g>
<g id="n-ARV1" class="n"><ellipse class="dk" cx="939" cy="784" rx="5" ry="5"/><text x="939" y="784">ARV1</text></g>
</g>
<g id="legend">
<ellipse cx="154" cy="880" rx="19" ry="16" fill="#f5bdc7" stroke="#eaa9b5" stroke-width="0.8"/>
<text class="lg" x="188" y="892" textLength="67" lengthAdjust="spacingAndGlyphs">Nodes</text>
<ellipse cx="317" cy="882" rx="12" ry="10" fill="#f5bdc7" stroke="#eaa9b5" stroke-width="0.8"/>
<text class="ar" x="337" y="889" textLength="28" lengthAdjust="spacingAndGlyphs">→</text>
<ellipse cx="391" cy="880" rx="19" ry="16" fill="#f5bdc7" stroke="#eaa9b5" stroke-width="0.8"/>
<text class="lg" x="426" y="892" textLength="259" lengthAdjust="spacingAndGlyphs">Low value to small sizes</text>
<rect x="764" y="879" width="84" height="12" fill="url(#grad)"/>
<text class="lg" x="857" y="892" textLength="277" lengthAdjust="spacingAndGlyphs">Low value to bright colors</text>
<line x1="136" y1="953" x2="161" y2="927" stroke="#111" stroke-width="2.5"/>
<text class="lg" x="178" y="950" textLength="64" lengthAdjust="spacingAndGlyphs">Edges</text>
<line x1="294" y1="953" x2="319" y2="927" stroke="#111" stroke-width="2.5"/>
<text class="ar" x="329" y="947" textLength="28" lengthAdjust="spacingAndGlyphs">→</text>
<polygon points="364,953 372,959 394,931 386,925" fill="#111"/>
<text class="lg" x="416" y="950" textLength="264" lengthAdjust="spacingAndGlyphs">Low value to small sizes</text>
<rect x="764" y="934" width="84" height="12" fill="url(#grad)"/>
<text class="lg" x="855" y="950" textLength="282" lengthAdjust="spacingAndGlyphs">Low value to bright colors</text>
</g>
</svg>
